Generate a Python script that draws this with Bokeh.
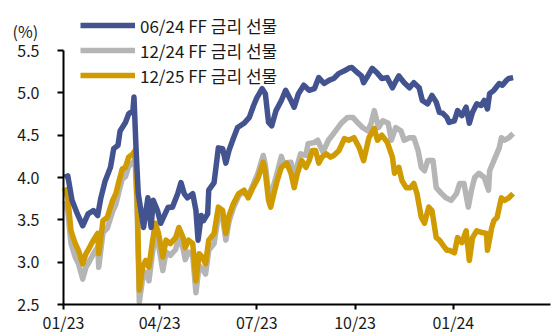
import pandas as pd
from bokeh.plotting import figure
from bokeh.models import (Range1d, FixedTicker, NumeralTickFormatter, DatetimeTickFormatter,
                          Legend, LegendItem, Label)
from bokeh.embed import file_html
from bokeh.resources import INLINE

FONT = "Noto Sans CJK KR"

series_names = ["06/24 FF 금리 선물", "12/24 FF 금리 선물", "12/25 FF 금리 선물"]
y_unit = "(%)"
y_ticks = [2.5, 3.0, 3.5, 4.0, 4.5, 5.0, 5.5]
x_tick_dates = ["2023-01-01", "2023-04-01", "2023-07-01", "2023-10-01", "2024-01-01"]
x_start, x_end = "2023-01-01", "2024-04-01"
y_start, y_end = 2.5, 5.5

blue_dates = ["2023-01-02","2023-01-05","2023-01-09","2023-01-14","2023-01-19","2023-01-24","2023-01-29",
    "2023-02-02","2023-02-05","2023-02-09","2023-02-14","2023-02-17","2023-02-21","2023-02-23","2023-02-28",
    "2023-03-03","2023-03-07","2023-03-08","2023-03-10","2023-03-12","2023-03-14","2023-03-17","2023-03-21",
    "2023-03-24","2023-03-26","2023-03-30","2023-04-02","2023-04-09","2023-04-13","2023-04-18","2023-04-21",
    "2023-04-24","2023-04-27","2023-05-02","2023-05-05","2023-05-07","2023-05-10","2023-05-12","2023-05-16",
    "2023-05-17","2023-05-22","2023-05-26","2023-05-30","2023-06-02","2023-06-05","2023-06-09","2023-06-13",
    "2023-06-19","2023-06-24","2023-06-28","2023-07-01","2023-07-06","2023-07-09","2023-07-12","2023-07-15",
    "2023-07-19","2023-07-24","2023-07-28","2023-08-02","2023-08-05","2023-08-09","2023-08-14","2023-08-19",
    "2023-08-24","2023-08-28","2023-09-02","2023-09-07","2023-09-11","2023-09-16","2023-09-21","2023-09-25",
    "2023-09-28","2023-10-03","2023-10-07","2023-10-09","2023-10-12","2023-10-17","2023-10-22","2023-10-26",
    "2023-10-31","2023-11-05","2023-11-07","2023-11-11","2023-11-16","2023-11-21","2023-11-25","2023-11-30",
    "2023-12-03","2023-12-08","2023-12-12","2023-12-16","2023-12-19","2023-12-22","2023-12-26","2023-12-28",
    "2024-01-02","2024-01-05","2024-01-09","2024-01-13","2024-01-16","2024-01-19","2024-01-23","2024-01-27",
    "2024-01-30","2024-02-02","2024-02-04","2024-02-08","2024-02-13","2024-02-16","2024-02-20","2024-02-22",
    "2024-02-26"]
blue_vals = [4.00,4.02,3.73,3.57,3.43,3.57,3.61,
    3.55,3.76,3.96,4.12,4.34,4.38,4.55,4.65,
    4.75,4.79,4.95,4.32,3.81,3.65,3.41,3.76,
    3.41,3.73,3.61,3.46,3.65,3.65,3.81,3.94,
    3.81,3.76,3.81,3.61,3.26,3.55,3.49,3.57,
    3.85,3.94,4.35,4.34,4.17,4.32,4.46,4.59,
    4.64,4.71,4.85,4.94,5.05,4.99,4.65,4.61,
    4.79,4.91,5.03,4.91,4.83,4.99,5.09,5.03,
    5.05,5.18,5.11,5.15,5.17,5.23,5.26,5.29,
    5.30,5.24,5.20,5.12,5.18,5.29,5.23,5.17,
    5.18,5.06,5.11,5.20,5.12,5.06,5.12,5.06,
    4.91,4.87,4.97,4.89,4.77,4.76,4.71,4.65,
    4.67,4.79,4.73,4.83,4.64,4.77,4.87,4.85,
    4.91,4.81,4.99,5.03,5.11,5.09,5.15,5.17,
    5.18]

gold_dates = ["2023-01-02","2023-01-05","2023-01-08","2023-01-12","2023-01-15","2023-01-19","2023-01-22",
    "2023-01-24","2023-01-29","2023-02-02","2023-02-03","2023-02-07","2023-02-11","2023-02-16","2023-02-19",
    "2023-02-22","2023-02-25","2023-02-28","2023-03-03","2023-03-07","2023-03-09","2023-03-11","2023-03-13",
    "2023-03-16","2023-03-19","2023-03-22","2023-03-25","2023-03-28","2023-03-31","2023-04-04","2023-04-07",
    "2023-04-11","2023-04-16","2023-04-19","2023-04-23","2023-04-25","2023-04-28","2023-05-02","2023-05-05",
    "2023-05-08","2023-05-11","2023-05-14","2023-05-17","2023-05-22","2023-05-26","2023-05-30","2023-06-02",
    "2023-06-05","2023-06-09","2023-06-14","2023-06-19","2023-06-23","2023-06-27","2023-07-02","2023-07-07",
    "2023-07-09","2023-07-12","2023-07-14","2023-07-17","2023-07-20","2023-07-24","2023-07-29","2023-08-02",
    "2023-08-05","2023-08-08","2023-08-12","2023-08-16","2023-08-19","2023-08-22","2023-08-25","2023-08-28",
    "2023-08-31","2023-09-04","2023-09-08","2023-09-11","2023-09-16","2023-09-21","2023-09-25","2023-09-30",
    "2023-10-05","2023-10-09","2023-10-14","2023-10-19","2023-10-22","2023-10-26","2023-10-31","2023-11-05",
    "2023-11-07","2023-11-11","2023-11-14","2023-11-18","2023-11-22","2023-11-25","2023-11-28","2023-12-02",
    "2023-12-05","2023-12-09","2023-12-12","2023-12-16","2023-12-19","2023-12-23","2023-12-26","2023-12-28",
    "2024-01-02","2024-01-05","2024-01-09","2024-01-13","2024-01-16","2024-01-19","2024-01-23","2024-01-28",
    "2024-02-01","2024-02-02","2024-02-06","2024-02-08","2024-02-11","2024-02-15","2024-02-18","2024-02-22",
    "2024-02-26"]
gold_vals = [3.88,3.76,3.37,3.22,3.14,2.98,3.10,
    3.14,3.26,3.34,3.10,3.49,3.53,3.73,3.81,
    3.96,4.10,4.12,4.24,4.28,4.32,3.73,2.67,
    2.94,3.02,2.94,3.22,3.46,3.34,3.06,3.26,
    3.22,3.29,3.41,3.29,3.17,3.26,3.22,2.78,
    3.10,3.06,2.98,3.26,3.34,3.65,3.61,3.34,
    3.55,3.69,3.81,3.85,3.76,3.87,3.99,4.18,
    4.06,3.73,3.65,3.81,3.96,4.12,4.17,4.05,
    3.88,4.05,4.20,4.12,4.20,4.32,4.32,4.17,
    4.24,4.28,4.24,4.26,4.32,4.46,4.44,4.47,
    4.35,4.20,4.47,4.58,4.44,4.50,4.42,4.24,
    4.05,4.12,3.96,3.88,3.88,3.93,3.81,3.53,
    3.46,3.65,3.61,3.29,3.26,3.19,3.14,3.14,
    3.11,3.29,3.23,3.37,3.02,3.29,3.37,3.35,
    3.34,3.14,3.41,3.49,3.53,3.76,3.73,3.76,
    3.81]

gray_dates = ["2023-01-02","2023-01-05","2023-01-08","2023-01-12","2023-01-15","2023-01-19","2023-01-22",
    "2023-01-24","2023-01-29","2023-02-02","2023-02-03","2023-02-07","2023-02-11","2023-02-16","2023-02-19",
    "2023-02-22","2023-02-25","2023-02-28","2023-03-03","2023-03-07","2023-03-09","2023-03-11","2023-03-13",
    "2023-03-16","2023-03-19","2023-03-22","2023-03-25","2023-03-28","2023-03-31","2023-04-04","2023-04-07",
    "2023-04-11","2023-04-16","2023-04-19","2023-04-23","2023-04-25","2023-04-28","2023-05-02","2023-05-05",
    "2023-05-08","2023-05-11","2023-05-14","2023-05-17","2023-05-22","2023-05-26","2023-05-30","2023-06-02",
    "2023-06-05","2023-06-09","2023-06-14","2023-06-19","2023-06-23","2023-06-27","2023-07-02","2023-07-07",
    "2023-07-09","2023-07-12","2023-07-14","2023-07-21","2023-07-24","2023-07-26","2023-08-02","2023-08-05",
    "2023-08-08","2023-08-11","2023-08-16","2023-08-18","2023-08-23","2023-08-27","2023-09-01","2023-09-06",
    "2023-09-11","2023-09-18","2023-09-24","2023-09-29","2023-10-04","2023-10-08","2023-10-13","2023-10-16",
    "2023-10-19","2023-10-23","2023-10-27","2023-11-01","2023-11-04","2023-11-08","2023-11-13","2023-11-16",
    "2023-11-21","2023-11-25","2023-11-29","2023-12-02","2023-12-05","2023-12-08","2023-12-13","2023-12-16",
    "2023-12-21","2023-12-25","2023-12-30","2024-01-04","2024-01-07","2024-01-11","2024-01-15","2024-01-18",
    "2024-01-21","2024-01-25","2024-01-30","2024-02-03","2024-02-04","2024-02-08","2024-02-13","2024-02-15",
    "2024-02-18","2024-02-22","2024-02-26"]
gray_vals = [3.72,3.60,3.22,3.06,2.98,2.80,2.94,
    2.98,3.10,3.18,2.94,3.35,3.40,3.60,3.68,
    3.84,3.98,4.01,4.13,4.18,4.22,3.60,2.53,
    2.80,2.88,2.78,3.08,3.34,3.20,2.90,3.12,
    3.08,3.15,3.30,3.16,3.03,3.12,3.08,2.64,
    2.96,2.92,2.86,3.14,3.22,3.55,3.52,3.26,
    3.48,3.64,3.78,3.84,3.78,3.90,4.05,4.26,
    4.15,3.82,3.78,4.10,4.25,4.17,4.18,3.98,
    4.15,4.28,4.26,4.40,4.41,4.44,4.30,4.44,
    4.52,4.64,4.71,4.71,4.64,4.59,4.55,4.64,
    4.79,4.59,4.67,4.64,4.44,4.59,4.55,4.44,
    4.47,4.47,4.32,4.12,4.08,4.20,4.20,3.88,
    3.81,3.76,3.73,3.81,3.93,3.93,3.65,3.85,
    4.00,4.05,4.00,3.85,4.08,4.20,4.35,4.47,
    4.44,4.47,4.52]

COL_BLUE = "#435390"
COL_GRAY = "#b5b5b5"
COL_GOLD = "#cf9b00"
TXT = "#1a1a1a"

# layout geometry (pixels): axes drawn at fixed locations inside a full-canvas frame
W, H = 555, 333
AX_LEFT, AX_RIGHT, AX_TOP, AX_BOTTOM = 63, 550, 50, 304
x0, x1 = pd.Timestamp(x_start), pd.Timestamp(x_end)
ms_per_px = (x1 - x0).total_seconds() * 1000 / (AX_RIGHT - AX_LEFT)
val_per_px = (y_end - y_start) / (AX_BOTTOM - AX_TOP)
x0_ms = x0.value / 1e6
x1_ms = x1.value / 1e6

p = figure(width=W, height=H, output_backend="svg", toolbar_location=None,
           x_axis_type="datetime",
           x_range=Range1d(x0_ms - AX_LEFT * ms_per_px, x1_ms + (W - AX_RIGHT) * ms_per_px),
           y_range=Range1d(y_start - (H - AX_BOTTOM) * val_per_px, y_end + AX_TOP * val_per_px),
           min_border_left=0, min_border_right=0, min_border_top=0, min_border_bottom=0)
p.outline_line_color = None
p.grid.visible = False
p.background_fill_color = "white"
p.border_fill_color = "white"

lw = 5.5
r_gray = p.line(pd.to_datetime(gray_dates), gray_vals, line_color=COL_GRAY, line_width=lw, line_join="round")
r_gold = p.line(pd.to_datetime(gold_dates), gold_vals, line_color=COL_GOLD, line_width=lw, line_join="round")
r_blue = p.line(pd.to_datetime(blue_dates), blue_vals, line_color=COL_BLUE, line_width=lw, line_join="round")

# y axis
ya = p.yaxis[0]
ya.fixed_location = x0_ms
ya.bounds = (y_start, y_end)
ya.ticker = FixedTicker(ticks=y_ticks)
ya.formatter = NumeralTickFormatter(format="0.0")
ya.minor_tick_line_color = None
ya.major_tick_in = 0
ya.major_tick_out = 6
ya.axis_line_width = 2
ya.major_tick_line_width = 2
ya.axis_line_color = "black"
ya.major_tick_line_color = "black"
ya.major_label_standoff = 18
ya.major_label_text_font = FONT
ya.major_label_text_font_size = "16px"
ya.major_label_text_color = TXT

# x axis
xa = p.xaxis[0]
xa.fixed_location = y_start
xa.bounds = (x0_ms, x1_ms)
xa.ticker = FixedTicker(ticks=[pd.Timestamp(d).value / 1e6 for d in x_tick_dates])
xa.formatter = DatetimeTickFormatter(months="%m/%y", days="%m/%y", years="%m/%y")
xa.minor_tick_line_color = None
xa.major_tick_in = 0
xa.major_tick_out = 5
xa.axis_line_width = 2
xa.major_tick_line_width = 2
xa.axis_line_color = "black"
xa.major_tick_line_color = "black"
xa.major_label_standoff = 0
xa.major_label_text_font = FONT
xa.major_label_text_font_size = "16px"
xa.major_label_text_color = TXT

# legend: one single-row legend per series for exact row placement
row_bottoms = [294, 269, 244]
for name, r, yb in zip(series_names, [r_blue, r_gray, r_gold], row_bottoms):
    lg = Legend(items=[LegendItem(label=name, renderers=[r])],
                location=(80, yb), padding=0, margin=0, spacing=0,
                glyph_width=55, glyph_height=28, label_height=28, label_standoff=5,
                label_text_font=FONT, label_text_font_size="17px", label_text_color=TXT,
                border_line_alpha=0, background_fill_alpha=0)
    p.add_layout(lg, "center")

p.add_layout(Label(x=x0_ms - 51 * ms_per_px, y=y_start + (AX_BOTTOM - 30) * val_per_px,
                   x_units="data", y_units="data", text=y_unit,
                   text_font=FONT, text_font_size="16px", text_color=TXT,
                   text_baseline="alphabetic", text_align="left"))

open("out.html", "w").write(file_html(p, INLINE))
